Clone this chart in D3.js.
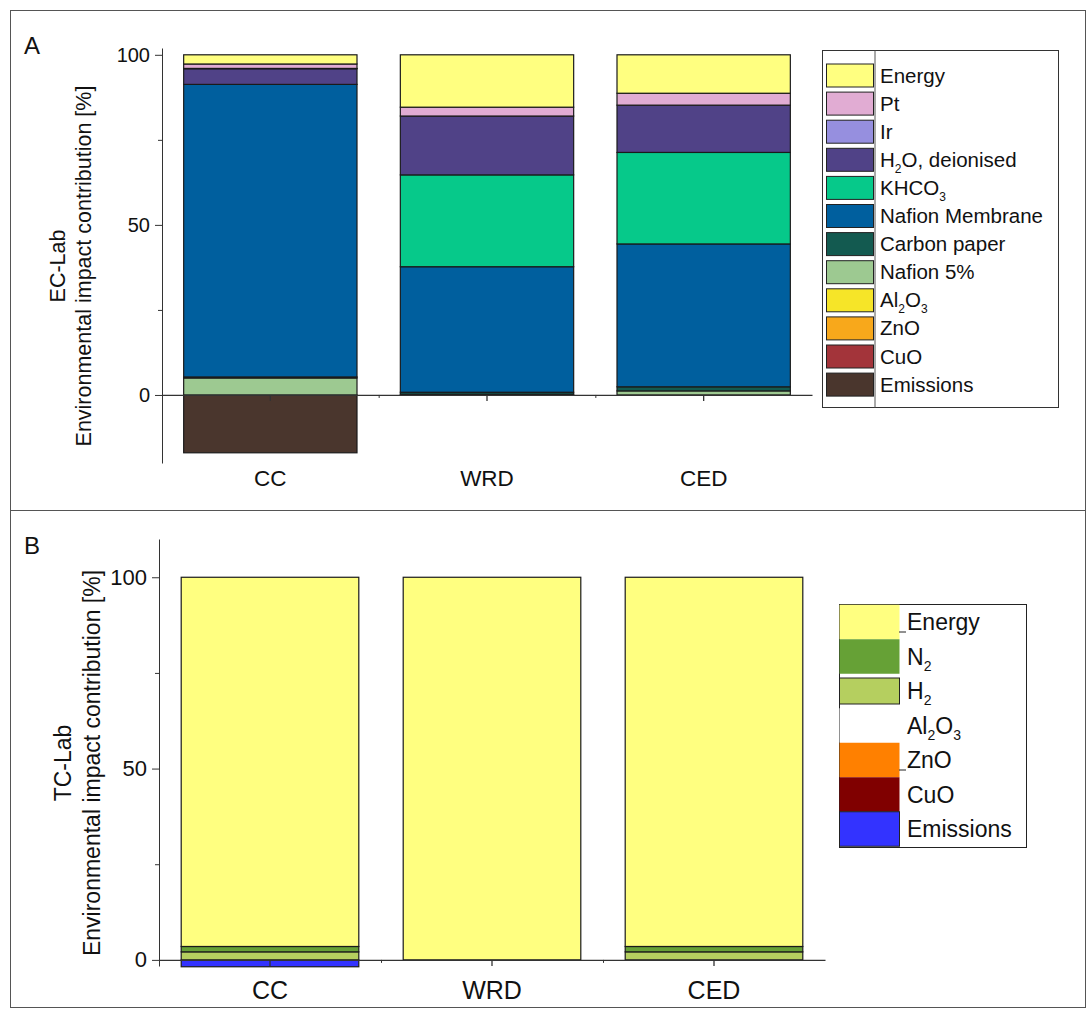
<!DOCTYPE html>
<html>
<head>
<meta charset="utf-8">
<script src="https://cdn.jsdelivr.net/npm/d3@7"></script>
<style>
  body { margin: 0; background: #fff; }
  svg text { font-family: "Liberation Sans", Arial, sans-serif; fill: #111; }
</style>
</head>
<body>
<svg id="chart" width="1090" height="1012"></svg>
<script>
// categories shared by both panels
var categories = ["CC", "WRD", "CED"];

// panel A (EC-Lab) - stack order bottom to top
var keysA = ["Emissions", "CuO", "ZnO", "Al2O3", "Nafion 5%", "Carbon paper",
             "Nafion Membrane", "KHCO3", "H2O, deionised", "Ir", "Pt", "Energy"];
var colorsA = ["#4a362d", "#a3343a", "#f8a81b", "#f6e528", "#9dc991", "#135a50",
               "#005f9e", "#06c98a", "#504287", "#968fdf", "#e1acd3", "#ffff80"];
var valuesA = {
  "Emissions":       [-17, 0, 0],
  "CuO":             [0, 0, 0],
  "ZnO":             [0, 0, 0],
  "Al2O3":           [0, 0, 0],
  "Nafion 5%":       [5, 0.2, 1.2],
  "Carbon paper":    [0.3, 0.6, 1.2],
  "Nafion Membrane": [86, 36.9, 42],
  "KHCO3":           [0, 27, 26.9],
  "H2O, deionised":  [4.6, 17.3, 13.9],
  "Ir":              [0.1, 0, 0],
  "Pt":              [1.3, 2.6, 3.5],
  "Energy":          [2.7, 15.4, 11.3]
};

// panel B (TC-Lab)
var keysB = ["Emissions", "CuO", "ZnO", "Al2O3", "H2", "N2", "Energy"];
var colorsB = ["#3333ff", "#800000", "#ff8000", "#ffffff", "#b5cf5f", "#66a136", "#ffff80"];
var valuesB = {
  "Emissions": [-1.8, 0, 0],
  "CuO":       [0, 0, 0],
  "ZnO":       [0, 0, 0],
  "Al2O3":     [0, 0, 0],
  "H2":        [2.1, 0, 2.1],
  "N2":        [1.4, 0, 1.4],
  "Energy":    [96.5, 100, 96.5]
};

var yTicks = [0, 50, 100];
var yMinor = [25, 75];

// legend labels as [text, subscript, text, subscript, text]
var labelParts = {
  "Energy": ["Energy"], "Pt": ["Pt"], "Ir": ["Ir"],
  "H2O, deionised": ["H", "2", "O, deionised"],
  "KHCO3": ["KHCO", "3"],
  "Nafion Membrane": ["Nafion Membrane"], "Carbon paper": ["Carbon paper"],
  "Nafion 5%": ["Nafion 5%"],
  "Al2O3": ["Al", "2", "O", "3"], "ZnO": ["ZnO"], "CuO": ["CuO"],
  "Emissions": ["Emissions"], "N2": ["N", "2"], "H2": ["H", "2"]
};

var svg = d3.select("#chart");

// panel frames
svg.append("rect").attr("x", 10.5).attr("y", 10.5).attr("width", 1075).attr("height", 500)
  .attr("fill", "none").attr("stroke", "#555");
svg.append("rect").attr("x", 10.5).attr("y", 510.5).attr("width", 1075).attr("height", 497)
  .attr("fill", "none").attr("stroke", "#555");

function tableFrom(keys, values) {
  return categories.map(function(c, i) {
    var row = {cat: c};
    keys.forEach(function(k) { row[k] = values[k][i]; });
    return row;
  });
}

function addLabel(sel, parts, subSize) {
  parts.forEach(function(p, i) {
    var t = sel.append("tspan").text(p);
    if (i % 2 === 1) t.attr("font-size", subSize).attr("dy", 6);
    else if (i > 0) t.attr("dy", -6);
  });
}

function drawPanel(o) {
  var g = svg.append("g");
  var x = d3.scaleBand().domain(categories).range([o.x0, o.x1]).paddingInner(0.2).paddingOuter(0.1);
  var xb = d3.scaleBand().domain(categories).range([o.x0, o.x1]);
  var y = d3.scaleLinear().domain(o.domain).range([o.yBot, o.yTop]);

  var series = d3.stack().keys(o.keys).offset(d3.stackOffsetDiverging)(tableFrom(o.keys, o.values));
  var color = d3.scaleOrdinal().domain(o.keys).range(o.colors);

  series.forEach(function(s) {
    g.selectAll(null).data(s.filter(function(d) { return d[1] !== d[0]; }))
      .join("rect")
      .attr("x", function(d) { return x(d.data.cat); })
      .attr("width", x.bandwidth())
      .attr("y", function(d) { return y(Math.max(d[0], d[1])); })
      .attr("height", function(d) { return Math.abs(y(d[0]) - y(d[1])); })
      .attr("fill", color(s.key))
      .attr("stroke", "#1a1a1a").attr("stroke-width", 1.2);
  });

  // y axis
  var ya = g.append("g").attr("transform", "translate(" + o.x0 + ",0)")
    .call(d3.axisLeft(y).tickValues(yTicks).tickSize(7).tickSizeOuter(0).tickPadding(5));
  ya.selectAll("text").attr("font-size", o.tickFont);
  ya.selectAll("line, path").attr("stroke", "#333");
  g.append("g").attr("transform", "translate(" + o.x0 + ",0)")
    .call(d3.axisLeft(y).tickValues(yMinor).tickSize(4).tickFormat(""))
    .call(function(a) { a.select(".domain").remove(); a.selectAll("line").attr("stroke", "#333"); });

  // x axis on the zero line
  var xa = g.append("g").attr("transform", "translate(0," + y(0) + ")")
    .call(d3.axisBottom(xb).tickSize(6).tickSizeOuter(0).tickFormat(""));
  xa.selectAll("line, path").attr("stroke", "#333").attr("stroke-width", 1.3);
  g.append("g").attr("transform", "translate(0," + y(0) + ")")
    .call(d3.axisBottom(d3.scaleLinear().domain([0, 3]).range([o.x0, o.x1])).tickValues([1, 2]).tickSize(3).tickFormat(""))
    .call(function(a) { a.select(".domain").remove(); a.selectAll("line").attr("stroke", "#333"); });

  g.selectAll(".cat").data(categories).join("text")
    .attr("x", function(d) { return xb(d) + xb.bandwidth() / 2; })
    .attr("y", o.catY).attr("text-anchor", "middle").attr("font-size", o.catFont)
    .text(function(d) { return d; });

  // axis titles
  var mid = o.titleMid;
  g.append("text").attr("transform", "translate(" + o.t1x + "," + mid + ") rotate(-90)")
    .attr("text-anchor", "middle").attr("font-size", o.titleFont).text(o.lab);
  g.append("text").attr("transform", "translate(" + o.t2x + "," + mid + ") rotate(-90)")
    .attr("text-anchor", "middle").attr("font-size", o.titleFont).text("Environmental impact contribution [%]");

  g.append("text").attr("x", 24).attr("y", o.letterY).attr("font-size", 24).text(o.letter);
}

drawPanel({
  keys: keysA, values: valuesA, colors: colorsA,
  x0: 162, x1: 812, yTop: 48, yBot: 463, domain: [-20, 102],
  tickFont: 20, catFont: 22.5, catY: 486, titleFont: 21.5,
  t1x: 65, t2x: 91, titleMid: 266, lab: "EC-Lab", letter: "A", letterY: 54
});
drawPanel({
  keys: keysB, values: valuesB, colors: colorsB,
  x0: 159, x1: 825, yTop: 539, yBot: 966, domain: [-1.6, 110],
  tickFont: 22, catFont: 25, catY: 999, titleFont: 23,
  t1x: 71, t2x: 100, titleMid: 763, lab: "TC-Lab", letter: "B", letterY: 554
});

// legend A
(function() {
  var items = keysA.slice().reverse();
  var row = d3.scalePoint().domain(items).range([75.5, 384.6]);
  var cA = d3.scaleOrdinal().domain(keysA).range(colorsA);
  var lg = svg.append("g");
  lg.append("rect").attr("x", 822.5).attr("y", 50.5).attr("width", 236).attr("height", 357)
    .attr("fill", "#fff").attr("stroke", "#333");
  lg.append("line").attr("x1", 875).attr("x2", 875).attr("y1", 50.5).attr("y2", 407.5).attr("stroke", "#555");
  items.forEach(function(k) {
    lg.append("rect").attr("x", 826.5).attr("y", row(k) - 11.5).attr("width", 47).attr("height", 23)
      .attr("fill", cA(k)).attr("stroke", "#222");
    var t = lg.append("text").attr("x", 880).attr("y", row(k) + 7).attr("font-size", 20.5);
    addLabel(t, labelParts[k], 12);
  });
})();

// legend B
(function() {
  var items = keysB.slice().reverse();
  var row = d3.scalePoint().domain(items).range([622, 829]);
  var cB = d3.scaleOrdinal().domain(keysB).range(colorsB);
  var outlined = ["H2", "Emissions"];
  var lg = svg.append("g");
  lg.append("rect").attr("x", 839.5).attr("y", 604.5).attr("width", 187).attr("height", 243)
    .attr("fill", "#fff").attr("stroke", "#222");
  var step = row.step();
  items.forEach(function(k) {
    var h = k === "H2" ? 26 : step;
    var on = outlined.indexOf(k) >= 0;
    lg.append("rect").attr("x", 839.5).attr("y", row(k) - h / 2).attr("width", 60).attr("height", h)
      .attr("fill", cB(k)).attr("stroke", on ? "#222" : "none");
    var t = lg.append("text").attr("x", 907).attr("y", row(k) + 8).attr("font-size", 23);
    addLabel(t, labelParts[k], 14);
  });
  // small stray marks next to two entries, as in the original figure
  ["Energy", "ZnO"].forEach(function(k) {
    lg.append("line").attr("x1", 899).attr("x2", 906).attr("y1", row(k) + 10).attr("y2", row(k) + 10)
      .attr("stroke", "#222");
  });
})();
</script>
</body>
</html>
